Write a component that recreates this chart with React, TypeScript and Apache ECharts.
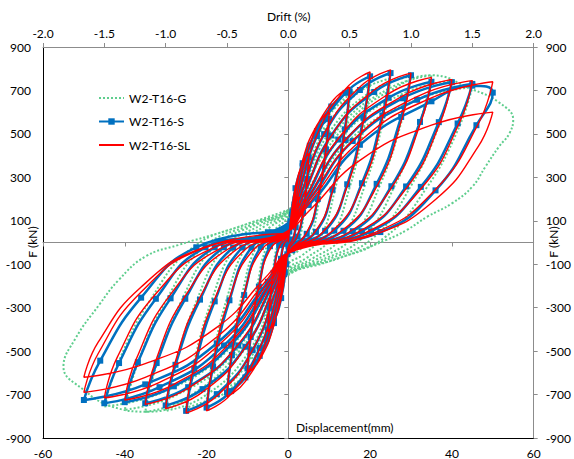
import React, { useEffect, useRef } from "react";
import * as echarts from "echarts";

type Pt = [number, number];

// Displacement (mm) vs. lateral force (kN), one sub-array per loading cycle.
const loopsG: Pt[][] = [
  [[0,40],[0.5,108],[1.75,245],[3.5,331],[5,360],[4.6,259],[3.75,126],[2.6,11],[1.1,-24],[0,-40],[-0.5,-108],[-1.75,-245],[-3.5,-331],[-5,-360],[-4.6,-259],[-3.75,-126],[-2.6,-11],[-1.1,24]],
  [[0,70],[1,162],[3.5,367],[7,497],[10,540],[9.2,389],[7.5,189],[5.2,16],[2.2,-42],[0,-70],[-1,-164],[-3.5,-371],[-7,-501],[-10,-545],[-9.2,-392],[-7.5,-191],[-5.2,-16],[-2.2,42]],
  [[0,100],[1.5,198],[5.25,449],[10.5,607],[15,660],[13.8,475],[11.25,231],[7.8,20],[3.3,-60],[0,-100],[-1.5,-200],[-5.25,-452],[-10.5,-612],[-15,-665],[-13.8,-479],[-11.25,-233],[-7.8,-20],[-3.3,60]],
  [[0,120],[2,218],[7,493],[14,667],[20,725],[18.4,522],[15,254],[10.4,22],[4.4,-72],[0,-120],[-2,-219],[-7,-496],[-14,-672],[-20,-730],[-18.4,-526],[-15,-256],[-10.4,-22],[-4.4,72]],
  [[0,130],[2.5,227],[8.75,513],[17.5,695],[25,755],[23,544],[18.75,264],[13,23],[5.5,-78],[0,-130],[-2.5,-228],[-8.75,-517],[-17.5,-699],[-25,-760],[-23,-547],[-18.75,-266],[-13,-23],[-5.5,78]],
  [[0,135],[3,230],[10.5,520],[21,704],[30,765],[27.6,551],[22.5,268],[15.6,23],[6.6,-81],[0,-135],[-3,-233],[-10.5,-527],[-21,-713],[-30,-775],[-27.6,-558],[-22.5,-271],[-15.6,-23],[-6.6,81]],
  [[0,140],[3.5,231],[12.25,524],[24.5,708],[35,770],[32.2,554],[26.25,270],[18.2,23],[7.7,-84],[0,-140],[-3.5,-234],[-12.25,-530],[-24.5,-718],[-35,-780],[-32.2,-562],[-26.25,-273],[-18.2,-23],[-7.7,84]],
  [[0,140],[4,224],[14,507],[28,685],[40,745],[36.8,536],[30,261],[20.8,22],[8.8,-84],[0,-140],[-4,-231],[-14,-524],[-28,-708],[-40,-770],[-36.8,-554],[-30,-270],[-20.8,-23],[-8.8,84]],
  [[0,145],[4.5,215],[15.75,486],[31.5,658],[45,715],[41.4,515],[33.75,250],[23.4,21],[9.9,-87],[0,-145],[-4.5,-227],[-15.75,-513],[-31.5,-695],[-45,-755],[-41.4,-544],[-33.75,-264],[-23.4,-23],[-9.9,87]],
  [[0,150],[5,300],[15,560],[25,700],[35,770],[45,705],[51.5,645],[55,565],[54,500],[51.5,441],[48.2,349],[45,257],[40,180],[34,119],[29,58],[24,12],[12,-75],[0,-150],[-4,-280],[-12,-500],[-22,-680],[-34,-779],[-43,-756],[-50,-679],[-55,-572],[-52,-440],[-46.3,-288],[-41.5,-173],[-35,-65],[-27,-12],[-15,55],[0,150]],
];

const loopsS: Pt[][] = [
  [[0,0],[0.25,50],[0.88,128],[1.75,180],[2.5,200],[2.3,150],[1.8,70],[1.1,14],[0.05,-15],[-0.25,-54],[-0.88,-138],[-1.75,-194],[-2.5,-215],[-2.3,-161],[-1.8,-75],[-1.1,-6],[-0.25,20]],
  [[0.5,98],[1.75,250],[3.5,351],[5,390],[4.6,293],[3.6,137],[2.25,27],[0.1,-25],[-0.5,-100],[-1.75,-256],[-3.5,-360],[-5,-400],[-4.6,-300],[-3.6,-140],[-2.25,-12],[-0.5,35]],
  [[1,143],[3.5,365],[7,513],[10,570],[9.2,428],[7.2,200],[4.5,40],[0.2,-30],[-1,-145],[-3.5,-371],[-7,-522],[-10,-580],[-9.2,-435],[-7.2,-203],[-4.5,-17],[-1,40]],
  [[1.5,174],[5.25,445],[10.5,626],[15,695],[13.8,521],[10.8,243],[6.75,49],[0.3,-30],[-1.5,-173],[-5.25,-442],[-10.5,-621],[-15,-690],[-13.8,-518],[-10.8,-242],[-6.75,-21],[-1.5,42]],
  [[2,191],[7,490],[14,689],[20,765],[18.4,574],[14.4,268],[9,54],[0.4,-30],[-2,-190],[-7,-486],[-14,-684],[-20,-760],[-18.4,-570],[-14.4,-266],[-9,-23],[-2,44]],
  [[2.5,195],[8.75,499],[17.5,702],[25,780],[23,585],[18,273],[11.25,55],[0.5,-32],[-2.5,-194],[-8.75,-496],[-17.5,-698],[-25,-775],[-23,-581],[-18,-271],[-11.25,-23],[-2.5,45]],
  [[3,193],[10.5,493],[21,693],[30,770],[27.6,578],[21.6,270],[13.5,54],[0.6,-32],[-3,-188],[-10.5,-480],[-21,-675],[-30,-750],[-27.6,-563],[-21.6,-263],[-13.5,-23],[-3,45]],
  [[3.5,185],[12.25,474],[24.5,666],[35,740],[32.2,555],[25.2,259],[15.75,52],[0.7,-33],[-3.5,-185],[-12.25,-474],[-24.5,-666],[-35,-740],[-32.2,-555],[-25.2,-259],[-15.75,-22],[-3.5,45]],
  [[4,185],[14,472],[28,664],[40,738],[36.8,554],[28.8,258],[18,52],[0.8,-34],[-4,-184],[-14,-470],[-28,-662],[-40,-735],[-36.8,-551],[-28.8,-257],[-18,-22],[-4,46]],
  [[4.5,183],[15.75,467],[31.5,657],[45,730],[41.4,548],[32.4,256],[20.25,51],[0.9,-35],[-4.5,-185],[-15.75,-474],[-31.5,-666],[-45,-740],[-41.4,-555],[-32.4,-259],[-20.25,-22],[-4.5,46]],
  [[5,173],[17.5,450],[35,650],[45,722],[50,690],[46,540],[36,240],[22.5,48],[1,-35],[-5,-181],[-17.5,-464],[-35,-653],[-50,-725],[-46,-544],[-36,-254],[-22.5,-22],[-5,46]],
];

const loopsSL: Pt[][] = [
  [[0,0],[0.25,50],[0.88,132],[1.75,189],[2.5,210],[2.33,155],[1.8,69],[1.05,13],[0,-20],[-0.25,-53],[-0.88,-139],[-1.75,-198],[-2.5,-220],[-2.33,-163],[-1.8,-73],[-1.05,-9],[-0.1,18]],
  [[0.5,98],[1.75,258],[3.5,369],[5,410],[4.65,303],[3.6,135],[2.1,25],[0,-35],[-0.5,-98],[-1.75,-258],[-3.5,-369],[-5,-410],[-4.65,-303],[-3.6,-135],[-2.1,-16],[-0.2,30]],
  [[1,144],[3.5,378],[7,540],[10,600],[9.3,444],[7.2,198],[4.2,36],[0.1,-45],[-1,-144],[-3.5,-378],[-7,-540],[-10,-600],[-9.3,-444],[-7.2,-198],[-4.2,-24],[-0.3,35]],
  [[1.5,172],[5.25,450],[10.5,644],[15,715],[13.95,529],[10.8,236],[6.3,43],[0.15,-45],[-1.5,-170],[-5.25,-447],[-10.5,-639],[-15,-710],[-13.95,-525],[-10.8,-234],[-6.3,-28],[-0.5,38]],
  [[2,188],[7,495],[14,707],[20,785],[18.6,581],[14.4,259],[8.4,47],[0.2,-45],[-2,-186],[-7,-488],[-14,-698],[-20,-775],[-18.6,-574],[-14.4,-256],[-8.4,-31],[-0.6,40]],
  [[2.5,191],[8.75,501],[17.5,716],[25,795],[23.25,588],[18,262],[10.5,48],[0.25,-45],[-2.5,-188],[-8.75,-495],[-17.5,-707],[-25,-785],[-23.25,-581],[-18,-259],[-10.5,-31],[-0.8,40]],
  [[3,187],[10.5,491],[21,702],[30,780],[27.9,577],[21.6,257],[12.6,47],[0.3,-45],[-3,-184],[-10.5,-482],[-21,-689],[-30,-765],[-27.9,-566],[-21.6,-252],[-12.6,-31],[-0.9,40]],
  [[3.5,182],[12.25,479],[24.5,684],[35,760],[32.55,562],[25.2,251],[14.7,46],[0.35,-45],[-3.5,-179],[-12.25,-469],[-24.5,-671],[-35,-745],[-32.55,-551],[-25.2,-246],[-14.7,-30],[-1,40]],
  [[4,180],[14,473],[28,675],[40,750],[37.2,555],[28.8,248],[16.8,45],[0.4,-45],[-4,-174],[-14,-457],[-28,-653],[-40,-725],[-37.2,-537],[-28.8,-239],[-16.8,-29],[-1.2,40]],
  [[4.5,179],[15.75,469],[31.5,671],[45,745],[41.85,551],[32.4,246],[18.9,45],[0.45,-45],[-4.5,-172],[-15.75,-450],[-31.5,-644],[-45,-715],[-41.85,-529],[-32.4,-236],[-18.9,-29],[-1.4,40]],
  [[5,178],[17.5,466],[35,666],[50,740],[46.5,548],[36,244],[21,44],[0.5,-45],[-5,-166],[-17.5,-435],[-35,-621],[-50,-690],[-46.5,-511],[-36,-228],[-21,-28],[-1.5,40]],
  [[5,144],[17.5,378],[35,540],[50,600],[46.5,444],[36,198],[21,36],[0.5,-45],[-5,-149],[-17.5,-391],[-35,-558],[-50,-620],[-46.5,-459],[-36,-205],[-21,-25],[-1.5,40]],
];

const seriesNames = ["W2-T16-G", "W2-T16-S", "W2-T16-SL"];
const seriesColors = ["#5fce8e", "#0070c0", "#ff0000"];
const dispRange = [-60, 60, 20];
const driftRange = [-2, 2, 0.5];
const forceRange = [-900, 900, 200];

const FONT = "Lato, 'Noto Sans', sans-serif";
const GRAY = "#8c8c8c";

const flat = (loops: Pt[][]) => loops.reduce<Pt[]>((acc, c) => acc.concat(c), []);

export default function App() {
  const ref = useRef<HTMLDivElement>(null);

  useEffect(() => {
    if (!ref.current) return;
    const chart = echarts.init(ref.current, undefined, { renderer: "svg" });
    const label = { color: "#000", fontFamily: FONT, fontSize: 12 };
    const hiddenSymbol = { color: "rgba(0,0,0,0)", borderWidth: 0 };

    chart.setOption({
      animation: false,
      backgroundColor: "#fff",
      grid: { left: 43, right: 36, top: 47, bottom: 21 },
      legend: {
        orient: "vertical",
        left: 98,
        top: 92,
        padding: 0,
        itemWidth: 25,
        itemHeight: 8,
        itemGap: 11.5,
        data: [
          { name: seriesNames[0], itemStyle: hiddenSymbol },
          { name: seriesNames[1] },
          { name: seriesNames[2], itemStyle: hiddenSymbol },
        ],
        textStyle: { ...label },
      },
      xAxis: [
        {
          type: "value",
          position: "bottom",
          min: dispRange[0],
          max: dispRange[1],
          interval: dispRange[2],
          axisLine: { show: true, onZero: false, lineStyle: { color: "#000", width: 1 } },
          axisTick: { show: false },
          splitLine: { show: false },
          axisLabel: { ...label, margin: 9 },
        },
        {
          type: "value",
          position: "top",
          min: driftRange[0],
          max: driftRange[1],
          interval: driftRange[2],
          axisLine: { show: true, onZero: false, lineStyle: { color: GRAY } },
          axisTick: { show: true, length: 4, lineStyle: { color: GRAY } },
          splitLine: { show: false },
          axisLabel: { ...label, margin: 8, formatter: (v: number) => v.toFixed(1) },
        },
        {
          type: "value",
          position: "bottom",
          min: dispRange[0],
          max: dispRange[1],
          interval: dispRange[2],
          axisLine: { show: true, onZero: true, onZeroAxisIndex: 0, lineStyle: { color: GRAY } },
          axisTick: { show: true, length: 4, lineStyle: { color: GRAY } },
          splitLine: { show: false },
          axisLabel: { show: false },
        },
      ],
      yAxis: [
        {
          type: "value",
          position: "left",
          min: forceRange[0],
          max: forceRange[1],
          interval: forceRange[2],
          axisLine: { show: true, onZero: false, lineStyle: { color: "#000", width: 1 } },
          axisTick: { show: false },
          splitLine: { show: false },
          axisLabel: { ...label, margin: 12 },
        },
        {
          type: "value",
          position: "right",
          min: forceRange[0],
          max: forceRange[1],
          interval: forceRange[2],
          axisLine: { show: true, onZero: false, lineStyle: { color: GRAY } },
          axisTick: { show: true, length: 4, lineStyle: { color: GRAY } },
          splitLine: { show: false },
          axisLabel: { ...label, margin: 12 },
        },
        {
          type: "value",
          position: "left",
          min: forceRange[0],
          max: forceRange[1],
          interval: forceRange[2],
          axisLine: { show: true, onZero: true, onZeroAxisIndex: 0, lineStyle: { color: GRAY } },
          axisTick: { show: true, length: 4, lineStyle: { color: GRAY } },
          splitLine: { show: false },
          axisLabel: { show: false },
        },
      ],
      graphic: [
        { type: "text", left: 291 - 24, top: 10, style: { text: "Drift (%)", fill: "#000", font: `12px ${FONT}` } },
        { type: "text", left: 296, top: 421, style: { text: "Displacement(mm)", fill: "#000", font: `12px ${FONT}` } },
        { type: "text", x: 32, y: 242, rotation: Math.PI / 2, style: { text: "F (kN)", fill: "#000", font: `12px ${FONT}`, align: "center", verticalAlign: "middle" } },
        { type: "text", x: 553, y: 242, rotation: Math.PI / 2, style: { text: "F (kN)", fill: "#000", font: `12px ${FONT}`, align: "center", verticalAlign: "middle" } },
      ],
      series: [
        {
          name: seriesNames[0],
          type: "line",
          data: flat(loopsG),
          smooth: 0.45,
          symbol: "none",
          lineStyle: { color: seriesColors[0], width: 2, type: "dotted" },
          itemStyle: { color: seriesColors[0] },
          z: 2,
        },
        {
          name: seriesNames[1],
          type: "line",
          data: flat(loopsS),
          smooth: 0.5,
          symbol: "rect",
          symbolSize: 6,
          lineStyle: { color: seriesColors[1], width: 2.5 },
          itemStyle: { color: seriesColors[1] },
          z: 3,
        },
        {
          name: seriesNames[2],
          type: "line",
          data: flat(loopsSL),
          smooth: 0.5,
          symbol: "none",
          lineStyle: { color: seriesColors[2], width: 1.4 },
          itemStyle: { color: seriesColors[2] },
          z: 4,
        },
      ],
    });

    return () => chart.dispose();
  }, []);

  return (
    <div
      ref={ref}
      style={{ position: "fixed", left: 0, top: 0, width: 574, height: 459, background: "#fff" }}
    />
  );
}
